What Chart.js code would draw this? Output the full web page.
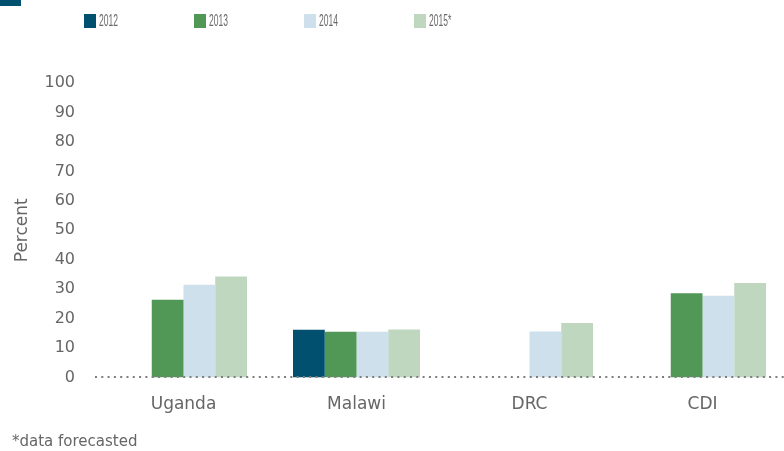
<!DOCTYPE html>
<html>
<head>
<meta charset="utf-8">
<script src="https://cdn.jsdelivr.net/npm/chart.js@4"></script>
<style>
  html, body { margin: 0; padding: 0; overflow: hidden; background: #fff; width: 784px; height: 451px; }
  #wrap { position: absolute; left: 0; top: 0; width: 790px; height: 451px; }
  #topbar { position: absolute; left: 0; top: 0; width: 21px; height: 6px; background: #02506f; }
  #legend { position: absolute; left: 0; top: 0; width: 784px; height: 40px; }
  .item { position: absolute; top: 14px; height: 14px; }
  .box { position: absolute; left: 0; top: 0; width: 12px; height: 14px; }
  .lbl { position: absolute; left: 15px; top: -2px; font-family: "Liberation Sans", Arial, sans-serif; font-size: 17px; line-height: 18px; color: #6a6a6a; transform: scaleX(0.5); transform-origin: left center; white-space: nowrap; }
  #note { position: absolute; left: 12px; top: 432px; font-family: "DejaVu Sans", sans-serif; font-size: 15px; line-height: 18px; color: #666; white-space: nowrap; }
</style>
</head>
<body>
<div id="wrap"><canvas id="c"></canvas></div>
<div id="topbar"></div>
<div id="legend"></div>
<div id="note">*data forecasted</div>
<script>
const categories = ['Uganda', 'Malawi', 'DRC', 'CDI'];
const seriesLabels = ['2012', '2013', '2014', '2015*'];
const v2012 = [null, 16.2, null, null];
const v2013 = [26.4, 15.5, null, 28.6];
const v2014 = [31.5, 15.5, 15.6, 27.8];
const v2015 = [34.3, 16.3, 18.5, 32.1];
const yTicks = [0, 10, 20, 30, 40, 50, 60, 70, 80, 90, 100];
const colors = ['#02506f', '#519755', '#cde0eb', '#bfd7be'];

const seriesValues = [v2012, v2013, v2014, v2015];

// HTML legend
const legend = document.getElementById('legend');
seriesLabels.forEach((lab, i) => {
  const it = document.createElement('div');
  it.className = 'item';
  it.style.left = (84 + i * 110) + 'px';
  const b = document.createElement('div');
  b.className = 'box';
  b.style.background = colors[i];
  const t = document.createElement('span');
  t.className = 'lbl';
  t.textContent = lab;
  it.appendChild(b); it.appendChild(t);
  legend.appendChild(it);
});

// dotted zero baseline drawn on top of the bars
const zeroLine = {
  id: 'zeroLine',
  afterDatasetsDraw(chart) {
    const { ctx, chartArea, scales } = chart;
    const y = Math.round(scales.y.getPixelForValue(0)) - 1;
    ctx.save();
    ctx.strokeStyle = '#7d7d7d';
    ctx.lineWidth = 2;
    ctx.setLineDash([2, 4.3]);
    ctx.beginPath();
    ctx.moveTo(chartArea.left - 2, y);
    ctx.lineTo(chartArea.right, y);
    ctx.stroke();
    ctx.restore();
  }
};

new Chart(document.getElementById('c'), {
  type: 'bar',
  data: {
    labels: categories,
    datasets: seriesValues.map((vals, i) => ({
      label: seriesLabels[i],
      data: vals,
      backgroundColor: colors[i],
      borderWidth: 0,
      categoryPercentage: 0.734,
      barPercentage: 1.0
    }))
  },
  plugins: [zeroLine],
  options: {
    responsive: true,
    maintainAspectRatio: false,
    animation: false,
    layout: { padding: { top: 83, right: 1, bottom: 0, left: 0 } },
    plugins: { legend: { display: false }, tooltip: { enabled: false } },
    scales: {
      x: {
        grid: { display: false, drawTicks: false },
        border: { display: false },
        ticks: { padding: 17, color: '#666', font: { family: 'DejaVu Sans', size: 17 } },
        afterFit: (s) => { s.height = 73.5; }
      },
      y: {
        min: 0, max: 100,
        afterBuildTicks: (s) => { s.ticks = yTicks.map(v => ({ value: v })); },
        grid: { display: false, drawTicks: false },
        border: { display: false },
        ticks: { padding: 22, color: '#666', font: { family: 'DejaVu Sans', size: 16 } },
        title: { display: true, text: 'Percent', color: '#666', font: { family: 'DejaVu Sans', size: 17 }, padding: { top: 12.8, bottom: 0 } },
        afterFit: (s) => { s.width = 97; }
      }
    }
  }
});
</script>
</body>
</html>
